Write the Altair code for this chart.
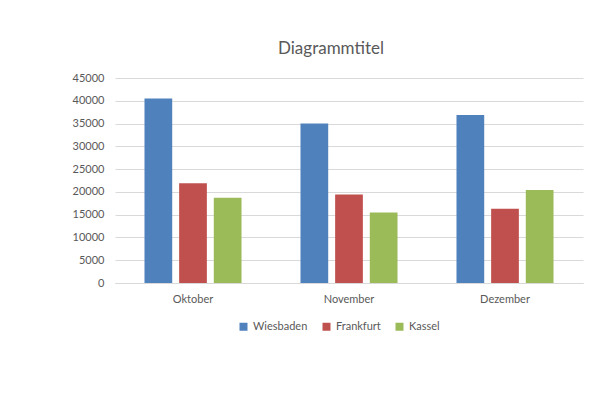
import altair as alt
import pandas as pd

months = ["Oktober", "November", "Dezember"]
cities = ["Wiesbaden", "Frankfurt", "Kassel"]
wiesbaden = [40500, 35000, 36900]
frankfurt = [21900, 19400, 16300]
kassel = [18700, 15500, 20400]
colors = ["#4F81BD", "#C0504D", "#9BBB59"]
y_ticks = list(range(0, 45001, 5000))

rows = []
for city, vals in zip(cities, [wiesbaden, frankfurt, kassel]):
    for m, v in zip(months, vals):
        rows.append({"Monat": m, "Stadt": city, "Wert": v})
df = pd.DataFrame(rows)

font = "Lato"
grey = "#595959"
gridc = "#D9D9D9"

chart = alt.Chart(df).mark_bar().encode(
    x=alt.X("Monat:N", sort=months,
            scale=alt.Scale(paddingInner=0.378, paddingOuter=0.189),
            axis=alt.Axis(title=None, labelAngle=0, ticks=False, domainColor=gridc,
                          labelPadding=10, labelColor=grey, labelFont=font, labelFontSize=11)),
    xOffset=alt.XOffset("Stadt:N", sort=cities,
                        scale=alt.Scale(paddingInner=0.2, paddingOuter=0)),
    y=alt.Y("Wert:Q", scale=alt.Scale(domain=[0, 45000], nice=False),
            axis=alt.Axis(values=y_ticks, title=None, domain=False, ticks=False,
                          format="d", gridColor=gridc, labelPadding=11, labelColor=grey,
                          labelFont=font, labelFontSize=11)),
    color=alt.Color("Stadt:N", sort=cities,
                    scale=alt.Scale(domain=cities, range=colors),
                    legend=alt.Legend(orient="none", direction="horizontal",
                                      legendX=123, legendY=243, title=None,
                                      symbolType="square", symbolSize=64,
                                      symbolStrokeWidth=0, labelFont=font,
                                      labelFontSize=11, labelColor=grey,
                                      columnPadding=13, labelOffset=4, padding=0)),
).properties(
    width=468, height=205,
    background="white",
    title=alt.TitleParams(text="Diagrammtitel", font=font, fontSize=17,
                          fontWeight="normal", color=grey, anchor="middle",
                          dx=-18, offset=14),
    padding={"left": 107, "top": 70, "right": 14, "bottom": 106},
    autosize=alt.AutoSizeParams(type="none"),
).configure_view(strokeWidth=0, stroke=None)

chart.save("out.html", embed_options={"renderer": "svg", "actions": False})
